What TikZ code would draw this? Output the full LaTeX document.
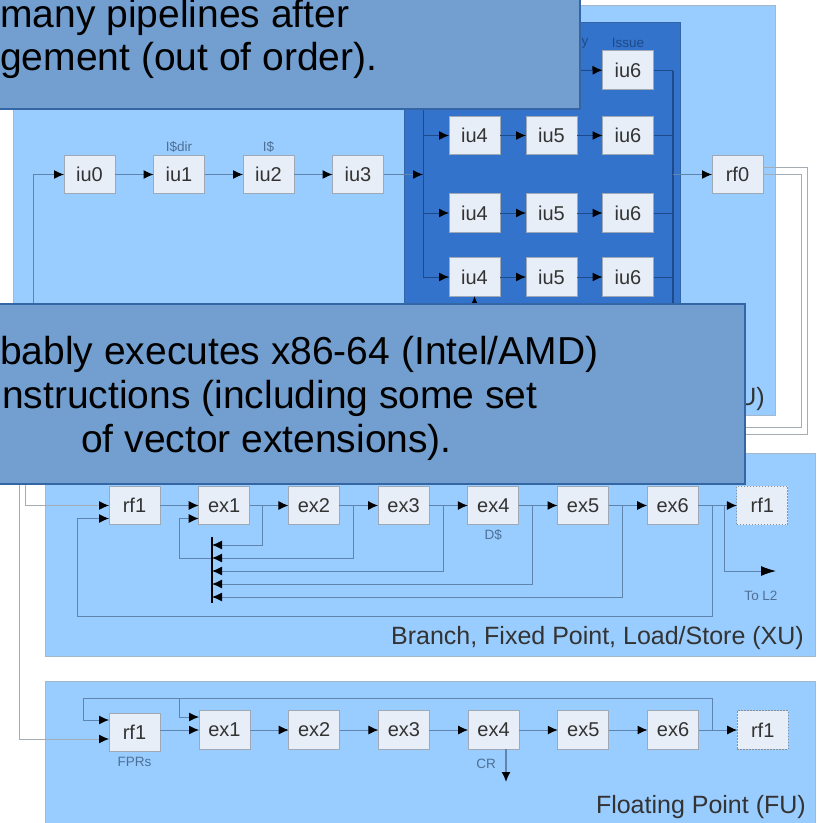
\documentclass[tikz,border=0pt]{standalone}
\usepackage{fontspec}
\setmainfont{Liberation Sans}
\usetikzlibrary{arrows.meta, positioning, calc}
\definecolor{panelcol}{HTML}{99CCFF}
\definecolor{panelline}{HTML}{A3B8CE}
\definecolor{darkcol}{HTML}{3373CC}
\definecolor{boxcol}{HTML}{E8EEF7}
\definecolor{boxline}{HTML}{9FA9B5}
\definecolor{notecol}{HTML}{729FCF}
\definecolor{noteline}{HTML}{3465A4}
\definecolor{linecol}{HTML}{5F84AD}
\definecolor{darkline}{HTML}{1E4A88}
\definecolor{wirecol}{HTML}{A4ACB4}
\definecolor{txtcol}{HTML}{333333}
\definecolor{smallcol}{HTML}{4F7096}
\tikzset{
  % Blocks and backgrounds
  panel/.style={
    draw=panelline, fill=panelcol, line width=1pt, outer sep=0pt, anchor=north west
  },
  note/.style={
    draw=noteline, fill=notecol, line width=1.2pt, outer sep=0pt
  },
  stage/.style={
    draw=boxline, fill=boxcol, line width=1pt, text=txtcol, outer sep=0pt, inner sep=0pt
    , minimum width=51pt, minimum height=38.5pt
    , font=\fontsize{20}{20}\selectfont
  },
  ghost/.style={
    stage, draw=txtcol!55, dash pattern=on 1.5pt off 1.5pt
  },
  small/.style={
    text=smallcol, inner sep=0pt, font=\fontsize{13.5}{14}\selectfont
  },
  paneltxt/.style={
    text=txtcol, inner sep=0pt, anchor=base east, font=\fontsize{25}{25}\selectfont
  },
  notetxt/.style={
    text=black, inner sep=0pt, anchor=base west, font=\fontsize{39}{39}\selectfont
  },
  % Connector styles
  garr/.style={
    draw=linecol, line width=1pt, -{Latex[length=10pt,width=9pt,black]}
  },
  darr/.style={
    garr, draw=darkline
  },
  wire/.style={
    garr, draw=wirecol
  },
  plainline/.style={
    draw=linecol, line width=1pt
  },
}
\begin{document}
\begin{tikzpicture}[x=1pt,y=-1pt]
  \path[use as bounding box,clip] (0,0) rectangle (819,823);
  \fill[white] (0,0) rectangle (819,823);

  \node (iupanel) [panel, minimum width=762pt, minimum height=410pt] at (13,5) {};
  \node (xupanel) [panel, minimum width=770pt, minimum height=203pt] at (45,453) {};
  \node (fupanel) [panel, minimum width=770pt, minimum height=145pt] at (45,681) {};
  \node (dispatch) [panel, draw=noteline, fill=darkcol
                   , minimum width=276pt, minimum height=290pt] at (404,22) {};

  % Integer unit
  \node (iu0) [stage] at (89.5,174.5) {iu0};
  \node (iu1) [stage, right=38.5pt of iu0] {iu1};
  \node (iu2) [stage, right=38.5pt of iu1] {iu2};
  \node (iu3) [stage, right=38.5pt of iu2] {iu3};
  \node (rf0) [stage] at (737.5,174.5) {rf0};

  \node (iu4a) [stage] at (474.5,135.5) {iu4};
  \node (iu5a) [stage, right=26pt of iu4a] {iu5};
  \node (iu6a) [stage, right=25.5pt of iu5a] {iu6};
  \node (iu6t) [stage, above=27pt of iu6a] {iu6};
  \node (iu4b) [stage, below=39pt of iu4a] {iu4};
  \node (iu5b) [stage, right=26pt of iu4b] {iu5};
  \node (iu6b) [stage, right=25.5pt of iu5b] {iu6};
  \node (iu4c) [stage, below=25.5pt of iu4b] {iu4};
  \node (iu5c) [stage, right=26pt of iu4c] {iu5};
  \node (iu6c) [stage, right=25.5pt of iu5c] {iu6};

  \node (lbdir) [small, above=3pt of iu1] {I\$dir};
  \node (lbi) [small, above=3pt of iu2] {I\$};
  \node (lbissue) [small, text=darkline, above=3pt of iu6t] {Issue};
  \node (lby) [small, text=darkline] at (585,43) {y};

  % Fixed point unit
  \node (xrf) [stage] at (134.5,505.5) {rf1};
  \node (xex1) [stage, right=38.7pt of xrf] {ex1};
  \node (xex2) [stage, right=38.7pt of xex1] {ex2};
  \node (xex3) [stage, right=38.7pt of xex2] {ex3};
  \node (xex4) [stage, right=38.7pt of xex3] {ex4};
  \node (xex5) [stage, right=38.7pt of xex4] {ex5};
  \node (xex6) [stage, right=38.7pt of xex5] {ex6};
  \node (xout) [ghost, right=38.7pt of xex6] {rf1};
  \node (lbd) [small, below=5pt of xex4] {D\$};
  \node (lbl) [small] at (761,596) {To L2};
  \node (xulabel) [paneltxt] at (804,644) {Branch, Fixed Point, Load/Store (XU)};

  % Floating point unit
  \node (frf) [stage] at (134.5,732.5) {rf1};
  \node (fex1) [stage] at (224.5,730) {ex1};
  \node (fex2) [stage, right=38.7pt of fex1] {ex2};
  \node (fex3) [stage, right=38.7pt of fex2] {ex3};
  \node (fex4) [stage, right=38.7pt of fex3] {ex4};
  \node (fex5) [stage, right=38.7pt of fex4] {ex5};
  \node (fex6) [stage, right=38.7pt of fex5] {ex6};
  \node (fout) [ghost, right=38.7pt of fex6] {rf1};
  \node (lbf) [small, below=5pt of frf] {FPRs};
  \node (lbc) [small] at (486,764) {CR};
  \node (fulabel) [paneltxt] at (806,813) {Floating Point (FU)};
  \node (iulabel) [paneltxt] at (765,405) {U)};

  \coordinate (busl) at (423,174.5);
  \coordinate (bustop) at (423,100);
  \coordinate (busr) at (673,174.5);
  \coordinate (busrtop) at (673,70.5);
  \coordinate (busrend) at (673,320);
  \coordinate (topin) at (570,70.5);
  \coordinate (upin) at (474.5,320);
  \coordinate (iuback) at (33,320);
  \coordinate (rfa) at (807,167.5);
  \coordinate (rfb) at (801,174.5);
  \coordinate (rfaend) at (735,434);
  \coordinate (rfbend) at (735,427);
  \coordinate (wirex) at (25,470);
  \coordinate (wiref) at (19,470);

  % Integer unit connectors
  \draw[garr] (iuback) |- (iu0);
  \draw[garr] (iu0) -- (iu1);
  \draw[garr] (iu1) -- (iu2);
  \draw[garr] (iu2) -- (iu3);
  \draw[garr] (iu3) -- (busl);
  \draw[darkline, line width=1pt] (bustop) -- (busl |- iu4c) -- (iu4c.west);
  \draw[darr] (busl |- iu4c) -- (iu4c);
  \draw[darr] (busl |- iu4a) -- (iu4a);
  \draw[darr] (busl |- iu4b) -- (iu4b);
  \draw[darr] (iu4a) -- (iu5a);
  \draw[darr] (iu5a) -- (iu6a);
  \draw[darr] (iu4b) -- (iu5b);
  \draw[darr] (iu5b) -- (iu6b);
  \draw[darr] (iu4c) -- (iu5c);
  \draw[darr] (iu5c) -- (iu6c);
  \draw[darr] (topin) -- (iu6t);
  \draw[darr] (upin) -- (iu4c);
  \draw[darkline, line width=2pt] (busrtop) -- (busrend);
  \draw[darkline, line width=1pt] (iu6t) -- (iu6t -| busr);
  \draw[darkline, line width=1pt] (iu6a) -- (iu6a -| busr);
  \draw[darkline, line width=1pt] (iu6b) -- (iu6b -| busr);
  \draw[darkline, line width=1pt] (iu6c) -- (iu6c -| busr);
  \draw[garr] (busr) -- (rf0);
  \draw[wirecol, line width=1pt] (rf0.east |- rfa) -- (rfa) |- (rfaend);
  \draw[wirecol, line width=1pt] (rf0.east |- rfb) -- (rfb) |- (rfbend);

  % Fixed point unit connectors
  \draw[wire] (wirex) |- (xrf);
  \draw[garr] (xrf) -- (xex1);
  \draw[garr] (xex1) -- (xex2);
  \draw[garr] (xex2) -- (xex3);
  \draw[garr] (xex3) -- (xex4);
  \draw[garr] (xex4) -- (xex5);
  \draw[garr] (xex5) -- (xex6);
  \draw[garr] (xex6) -- (xout);

  \coordinate (xtap1) at (262,505.5);
  \coordinate (xtap2) at (353,505.5);
  \coordinate (xtap3) at (443,505.5);
  \coordinate (xtap4) at (532,505.5);
  \coordinate (xtap5) at (622,505.5);
  \coordinate (xtap6) at (712,505.5);
  \coordinate (xtap7) at (724,505.5);
  \coordinate (xin1) at (212,545);
  \coordinate (xin2) at (212,558);
  \coordinate (xin3) at (212,571);
  \coordinate (xin4) at (212,584);
  \coordinate (xin5) at (212,597);
  \coordinate (xloop) at (179,558);
  \coordinate (xback) at (77,616);
  \coordinate (xtol) at (776,571);

  \draw[garr] (xtap1) |- (xin1);
  \draw[garr] (xtap2) |- (xin2);
  \draw[garr] (xtap3) |- (xin3);
  \draw[garr] (xtap4) |- (xin4);
  \draw[garr] (xtap5) |- (xin5);
  \draw[garr] (xin2) -- (xloop) |- ($(xex1.west)+(0,13)$);
  \draw[garr] (xtap6) |- (xback) |- ($(xrf.west)+(0,13)$);
  \draw[plainline, -{Latex[length=15pt,width=10pt,black]}] (xtap7) |- (xtol);
  \draw[black, line width=2pt] (212,537) -- (212,603);

  % Floating point unit connectors
  \coordinate (ftap) at (712,730);
  \coordinate (fback) at (83,698);
  \coordinate (ftee) at (179,698);
  \coordinate (fend) at (506,782);

  \draw[wire] (wiref) |- (frf.west |- 0,739);
  \draw[garr] (frf.east |- fex1) -- (fex1);
  \draw[garr] (fex1) -- (fex2);
  \draw[garr] (fex2) -- (fex3);
  \draw[garr] (fex3) -- (fex4);
  \draw[garr] (fex4) -- (fex5);
  \draw[garr] (fex5) -- (fex6);
  \draw[garr] (fex6) -- (fout);
  \draw[garr] (ftap) |- (fback) |- (frf.west |- 0,720);
  \draw[garr] (ftee) |- (fex1.west |- 0,717);
  \draw[garr, line width=1.6pt] (fex4.south -| fend) -- (fend);

  % Callouts on top of the diagram
  \node (topnote) [note, anchor=south east, minimum width=620pt, minimum height=130pt] at (580,109) {};
  \node (lownote) [note, anchor=north east, minimum width=780pt, minimum height=180pt] at (745,304) {};

  \node (topa) [notetxt] at (0,27) {many pipelines after};
  \node (topb) [notetxt] at (0,70) {gement (out of order).};
  \node (lowa) [notetxt] at (0,364) {bably executes x86-64 (Intel/AMD)};
  \node (lowb) [notetxt] at (2,408) {nstructions (including some set};
  \node (lowc) [notetxt] at (81,452) {of vector extensions).};
\end{tikzpicture}
\end{document}
